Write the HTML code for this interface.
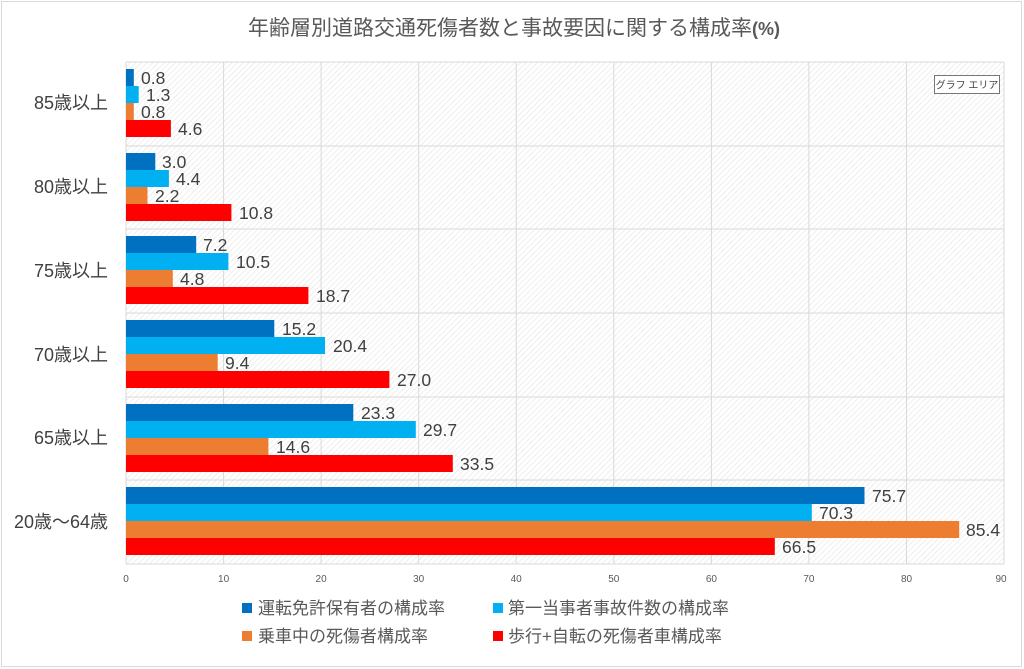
<!DOCTYPE html>
<html><head><meta charset="utf-8"><style>
html,body{margin:0;padding:0;background:#fff}
svg{display:block;font-family:"Liberation Sans","Noto Sans CJK JP",sans-serif}
</style></head><body>
<svg width="1024" height="669" viewBox="0 0 1024 669" xmlns="http://www.w3.org/2000/svg">
<defs>
<pattern id="h" width="4" height="4" patternUnits="userSpaceOnUse" patternTransform="rotate(45)">
<rect width="4" height="4" fill="#fff"/><line x1="0" y1="0" x2="0" y2="4" stroke="#e4e4e4" stroke-width="1.2"/>
</pattern>
</defs>
<rect x="1.5" y="1.5" width="1020" height="665" fill="#fff" stroke="#d9d9d9"/>
<text x="514" y="35" text-anchor="middle" font-size="21" fill="#595959">年齢層別道路交通死傷者数と事故要因に関する構成率<tspan font-weight="bold" font-size="18">(%)</tspan></text>
<rect x="126" y="62" width="878" height="502" fill="url(#h)"/>
<g stroke="#d9d9d9" stroke-width="1">
<line x1="223.6" y1="62" x2="223.6" y2="564"/><line x1="321.1" y1="62" x2="321.1" y2="564"/>
<line x1="418.7" y1="62" x2="418.7" y2="564"/><line x1="516.2" y1="62" x2="516.2" y2="564"/>
<line x1="613.8" y1="62" x2="613.8" y2="564"/><line x1="711.4" y1="62" x2="711.4" y2="564"/>
<line x1="808.9" y1="62" x2="808.9" y2="564"/><line x1="906.5" y1="62" x2="906.5" y2="564"/>
<line x1="1004" y1="62" x2="1004" y2="564"/>
<line x1="126" y1="62" x2="1004" y2="62"/><line x1="126" y1="146" x2="1004" y2="146"/>
<line x1="126" y1="229" x2="1004" y2="229"/><line x1="126" y1="313" x2="1004" y2="313"/>
<line x1="126" y1="397" x2="1004" y2="397"/><line x1="126" y1="480" x2="1004" y2="480"/>
<line x1="126" y1="564" x2="1004" y2="564"/><line x1="126" y1="62" x2="126" y2="564"/>
</g>
<g>
<rect x="126" y="69" width="7.8" height="17" fill="#0070c0"/>
<rect x="126" y="86" width="12.7" height="17" fill="#00b0f0"/>
<rect x="126" y="103" width="7.8" height="17" fill="#ed7d31"/>
<rect x="126" y="120" width="44.9" height="17" fill="#ff0000"/>
<rect x="126" y="153" width="29.3" height="17" fill="#0070c0"/>
<rect x="126" y="170" width="42.9" height="17" fill="#00b0f0"/>
<rect x="126" y="187" width="21.5" height="17" fill="#ed7d31"/>
<rect x="126" y="204" width="105.4" height="17" fill="#ff0000"/>
<rect x="126" y="236" width="70.2" height="17" fill="#0070c0"/>
<rect x="126" y="253" width="102.4" height="17" fill="#00b0f0"/>
<rect x="126" y="270" width="46.8" height="17" fill="#ed7d31"/>
<rect x="126" y="287" width="182.4" height="17" fill="#ff0000"/>
<rect x="126" y="320" width="148.3" height="17" fill="#0070c0"/>
<rect x="126" y="337" width="199.0" height="17" fill="#00b0f0"/>
<rect x="126" y="354" width="91.7" height="17" fill="#ed7d31"/>
<rect x="126" y="371" width="263.4" height="17" fill="#ff0000"/>
<rect x="126" y="404" width="227.3" height="17" fill="#0070c0"/>
<rect x="126" y="421" width="289.8" height="17" fill="#00b0f0"/>
<rect x="126" y="438" width="142.4" height="17" fill="#ed7d31"/>
<rect x="126" y="455" width="326.8" height="17" fill="#ff0000"/>
<rect x="126" y="487" width="738.5" height="17" fill="#0070c0"/>
<rect x="126" y="504" width="685.8" height="17" fill="#00b0f0"/>
<rect x="126" y="521" width="833.2" height="17" fill="#ed7d31"/>
<rect x="126" y="538" width="648.8" height="17" fill="#ff0000"/>
</g>
<g font-size="17.5" fill="#404040">
<text x="141" y="84">0.8</text><text x="146" y="101">1.3</text><text x="141" y="118">0.8</text><text x="178" y="135">4.6</text>
<text x="162" y="168">3.0</text><text x="176" y="185">4.4</text><text x="155" y="202">2.2</text><text x="239" y="219">10.8</text>
<text x="203" y="251">7.2</text><text x="236" y="268">10.5</text><text x="180" y="285">4.8</text><text x="316" y="302">18.7</text>
<text x="282" y="335">15.2</text><text x="333" y="352">20.4</text><text x="225" y="369">9.4</text><text x="397" y="386">27.0</text>
<text x="361" y="419">23.3</text><text x="423" y="436">29.7</text><text x="276" y="453">14.6</text><text x="460" y="470">33.5</text>
<text x="872" y="502">75.7</text><text x="819" y="519">70.3</text><text x="966" y="536">85.4</text><text x="782" y="553">66.5</text>
</g>
<g font-size="18" fill="#404040" text-anchor="end">
<text x="108" y="109">85歳以上</text><text x="108" y="193">80歳以上</text>
<text x="108" y="277">75歳以上</text><text x="108" y="361">70歳以上</text>
<text x="108" y="444">65歳以上</text><text x="108" y="528">20歳～64歳</text>
</g>
<g font-size="10" fill="#595959" text-anchor="middle">
<text x="126" y="582">0</text><text x="223.6" y="582">10</text><text x="321.1" y="582">20</text>
<text x="418.7" y="582">30</text><text x="516.2" y="582">40</text><text x="613.8" y="582">50</text>
<text x="711.4" y="582">60</text><text x="808.9" y="582">70</text><text x="906.5" y="582">80</text>
<text x="1001" y="582">90</text>
</g>
<g font-size="17" fill="#595959">
<rect x="242" y="603" width="10" height="10" fill="#0070c0"/><text x="258" y="614">運転免許保有者の構成率</text>
<rect x="493" y="603" width="10" height="10" fill="#00b0f0"/><text x="508" y="614">第一当事者事故件数の構成率</text>
<rect x="242" y="631" width="10" height="10" fill="#ed7d31"/><text x="258" y="642">乗車中の死傷者構成率</text>
<rect x="493" y="631" width="10" height="10" fill="#ff0000"/><text x="508" y="642">歩行+自転の死傷者車構成率</text>
</g>
<rect x="934.5" y="75.5" width="65" height="18" fill="#fff" stroke="#767676"/>
<text x="967" y="88.5" font-size="10" fill="#404040" text-anchor="middle">グラフ エリア</text>
</svg>
</body></html>
